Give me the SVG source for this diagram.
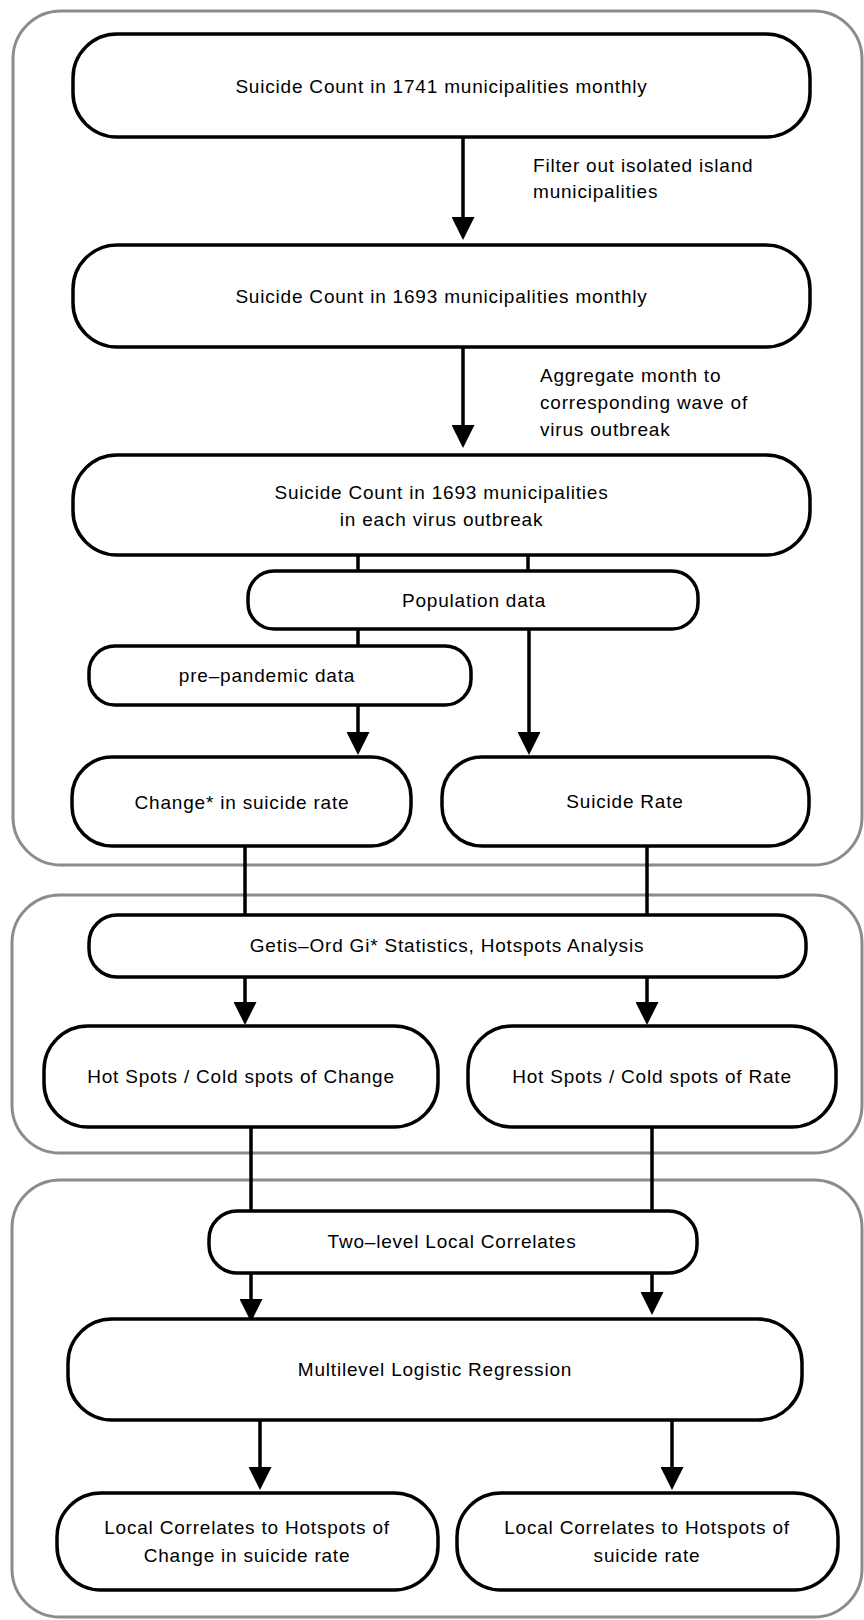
<svg xmlns="http://www.w3.org/2000/svg" width="864" height="1620" viewBox="0 0 864 1620">
<defs>
<style>
.bg{fill:#ffffff}
.group{fill:none;stroke:#8c8c8c;stroke-width:3}
.box{fill:#ffffff;stroke:#000000;stroke-width:3.5}
.t{font-family:"Liberation Sans",Arial,sans-serif;font-size:19px;letter-spacing:0.8px;fill:#000000;text-anchor:middle}
.lbl{font-family:"Liberation Sans",Arial,sans-serif;font-size:19px;letter-spacing:0.8px;fill:#000000}
.c{fill:none;stroke:#000000;stroke-width:3.5}
</style>
<marker id="ah" viewBox="0 0 23 23" refX="0" refY="11.5" markerWidth="23" markerHeight="23" markerUnits="userSpaceOnUse" orient="auto">
<path d="M0,0 L23,11.5 L0,23 z" fill="#000000"/>
</marker>
</defs>
<rect class="bg" x="0" y="0" width="864" height="1620"/>

<g id="group-data">
<rect class="group" x="13" y="11" width="849" height="854" rx="48" ry="48"/>
</g>
<g id="group-hotspots">
<rect class="group" x="12" y="895" width="850" height="258" rx="48" ry="48"/>
</g>
<g id="group-regression">
<rect class="group" x="12" y="1180" width="850" height="437" rx="48" ry="48"/>
</g>

<g id="connectors">
<line class="c" x1="463" y1="137" x2="463" y2="217" marker-end="url(#ah)"/>
<line class="c" x1="463" y1="347" x2="463" y2="425" marker-end="url(#ah)"/>
<line class="c" x1="358" y1="555" x2="358" y2="571"/>
<line class="c" x1="528" y1="555" x2="528" y2="571"/>
<line class="c" x1="358" y1="629" x2="358" y2="646"/>
<line class="c" x1="358" y1="705" x2="358" y2="732" marker-end="url(#ah)"/>
<line class="c" x1="529" y1="629" x2="529" y2="732" marker-end="url(#ah)"/>
<line class="c" x1="245" y1="846" x2="245" y2="915"/>
<line class="c" x1="647" y1="846" x2="647" y2="915"/>
<line class="c" x1="245" y1="977" x2="245" y2="1002" marker-end="url(#ah)"/>
<line class="c" x1="647" y1="977" x2="647" y2="1002" marker-end="url(#ah)"/>
<line class="c" x1="251" y1="1122" x2="251" y2="1211"/>
<line class="c" x1="652" y1="1127" x2="652" y2="1211"/>
<line class="c" x1="251" y1="1273" x2="251" y2="1299" marker-end="url(#ah)"/>
<line class="c" x1="652" y1="1273" x2="652" y2="1292" marker-end="url(#ah)"/>
<line class="c" x1="260" y1="1420" x2="260" y2="1467" marker-end="url(#ah)"/>
<line class="c" x1="672" y1="1420" x2="672" y2="1467" marker-end="url(#ah)"/>
</g>

<g id="label-filter">
<text class="lbl" x="533" y="172">Filter out isolated island</text>
<text class="lbl" x="533" y="198">municipalities</text>
</g>
<g id="label-aggregate">
<text class="lbl" x="540" y="382">Aggregate month to</text>
<text class="lbl" x="540" y="409">corresponding wave of</text>
<text class="lbl" x="540" y="436">virus outbreak</text>
</g>

<g id="node-count-1741">
<rect class="box" x="73" y="34" width="737" height="103" rx="44" ry="44"/>
<text class="t" x="441.5" y="92.5">Suicide Count in 1741 municipalities monthly</text>
</g>
<g id="node-count-1693">
<rect class="box" x="73" y="245" width="737" height="102" rx="44" ry="44"/>
<text class="t" x="441.5" y="303">Suicide Count in 1693 municipalities monthly</text>
</g>
<g id="node-count-outbreak">
<rect class="box" x="73" y="455" width="737" height="100" rx="44" ry="44"/>
<text class="t" x="441.5" y="499">Suicide Count in 1693 municipalities</text>
<text class="t" x="441.5" y="526">in each virus outbreak</text>
</g>
<g id="node-population">
<rect class="box" x="248" y="571" width="450" height="58" rx="26" ry="26"/>
<text class="t" x="474" y="607">Population data</text>
</g>
<g id="node-prepandemic">
<rect class="box" x="89" y="646" width="382" height="59" rx="26" ry="26"/>
<text class="t" x="267" y="682">pre–pandemic data</text>
</g>
<g id="node-change">
<rect class="box" x="72" y="757" width="339" height="89" rx="40" ry="40"/>
<text class="t" x="242" y="809">Change* in suicide rate</text>
</g>
<g id="node-rate">
<rect class="box" x="442" y="757" width="367" height="89" rx="40" ry="40"/>
<text class="t" x="625" y="808">Suicide Rate</text>
</g>
<g id="node-getis">
<rect class="box" x="89" y="915" width="717" height="62" rx="28" ry="28"/>
<text class="t" x="447" y="952">Getis–Ord Gi* Statistics, Hotspots Analysis</text>
</g>
<g id="node-hot-change">
<rect class="box" x="44" y="1026" width="394" height="101" rx="44" ry="44"/>
<text class="t" x="241" y="1083">Hot Spots / Cold spots of Change</text>
</g>
<g id="node-hot-rate">
<rect class="box" x="468" y="1026" width="368" height="101" rx="44" ry="44"/>
<text class="t" x="652" y="1083">Hot Spots / Cold spots of Rate</text>
</g>
<g id="node-two-level">
<rect class="box" x="209" y="1211" width="488" height="62" rx="28" ry="28"/>
<text class="t" x="452" y="1248">Two–level Local Correlates</text>
</g>
<g id="node-multilevel">
<rect class="box" x="68" y="1319" width="734" height="101" rx="44" ry="44"/>
<text class="t" x="435" y="1376">Multilevel Logistic Regression</text>
</g>
<g id="node-local-change">
<rect class="box" x="57" y="1493" width="381" height="97" rx="44" ry="44"/>
<text class="t" x="247" y="1534">Local Correlates to Hotspots of</text>
<text class="t" x="247" y="1562">Change in suicide rate</text>
</g>
<g id="node-local-rate">
<rect class="box" x="457" y="1493" width="381" height="97" rx="44" ry="44"/>
<text class="t" x="647" y="1534">Local Correlates to Hotspots of</text>
<text class="t" x="647" y="1562">suicide rate</text>
</g>
</svg>
